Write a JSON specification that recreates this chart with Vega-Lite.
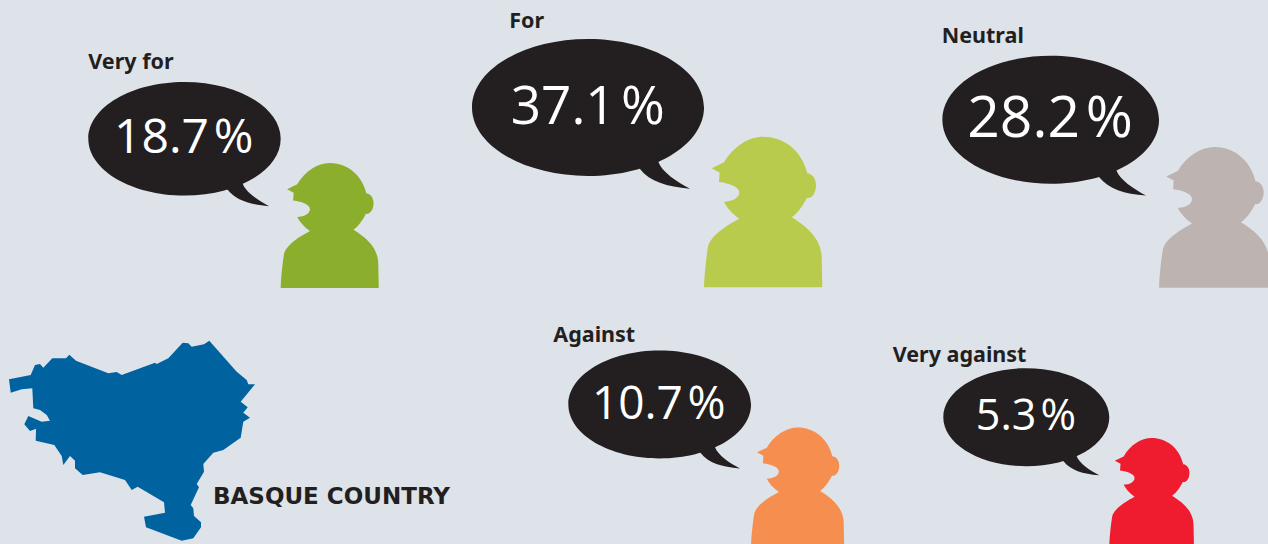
{"$schema":"https://vega.github.io/schema/vega-lite/v6.json","width":1268,"height":544,"padding":0,"autosize":{"type":"none"},"background":"#dde3e9","config":{"view":{"stroke":null}},"data":{"values":[{"stance":"Very for","pct":18.7,"text":"18.7\u200a%"},{"stance":"For","pct":37.1,"text":"37.1\u200a%"},{"stance":"Neutral","pct":28.2,"text":"28.2\u200a%"},{"stance":"Against","pct":10.7,"text":"10.7\u200a%"},{"stance":"Very against","pct":5.3,"text":"5.3\u200a%"}]},"resolve":{"scale":{"x":"independent","y":"independent","size":"independent"}},"layer":[{"mark":{"type":"point","filled":true,"opacity":1,"color":"#231f20","shape":"M-116,0 C-116,-37.83 -64.07,-68.5 0,-68.5 C64.07,-68.5 116,-37.83 116,0 C116,37.83 64.07,68.5 0,68.5 C-64.07,68.5 -116,37.83 -116,0 Z M70.3,54.2 C73.7,64.2 88.7,74.2 102,81.2 C78.7,79.2 62,74.2 52,61.5 L40,40 Z"},"encoding":{"x":{"field":"pct","type":"quantitative","axis":null,"scale":{"domain":[5.3,10.7,18.7,28.2,37.1],"range":[1026.3,659.7,184.5,1050.7,588],"zero":false,"nice":false}},"y":{"field":"pct","type":"quantitative","axis":null,"scale":{"domain":[5.3,10.7,18.7,28.2,37.1],"range":[417.2,404.5,138.8,119.7,107.5],"zero":false,"nice":false}},"size":{"field":"pct","type":"quantitative","legend":null,"scale":{"domain":[5.3,10.7,18.7,28.2,37.1],"range":[2.048,2.48,2.75,3.49,4],"zero":false,"nice":false}}}},{"mark":{"type":"point","filled":true,"opacity":1,"shape":"M123.7,60.8 L136,54.8 C145.3,39.2 160.3,29.2 175.3,29.2 C195.3,29.2 213.7,42.5 219.3,65.8 C225.3,66.5 228,72.5 228,77.5 C228,85.8 223.7,91.5 218.7,90.5 C215.3,97.5 210.3,105.2 203.7,109.8 C220.3,119.8 233.7,132.5 233.7,150.8 L234.3,179.8 L116,179.8 C116.3,169.2 118,150.8 120.3,137.5 C125,126 139,118 151.3,111.2 C143.7,105.8 138.7,99.8 136,94.2 C143.7,94.2 151.3,90.8 151.3,84.8 C151.3,79.8 142,75.8 131,74.5 L131.7,65.2 Z"},"encoding":{"x":{"field":"pct","type":"quantitative","axis":null,"scale":{"domain":[5.3,10.7,18.7,28.2,37.1],"range":[1026.3,659.7,184.5,1050.7,588],"zero":false,"nice":false}},"y":{"field":"pct","type":"quantitative","axis":null,"scale":{"domain":[5.3,10.7,18.7,28.2,37.1],"range":[417.2,404.5,138.8,119.7,107.5],"zero":false,"nice":false}},"size":{"field":"pct","type":"quantitative","legend":null,"scale":{"domain":[5.3,10.7,18.7,28.2,37.1],"range":[2.048,2.48,2.75,3.49,4],"zero":false,"nice":false}},"color":{"field":"stance","type":"nominal","legend":null,"scale":{"domain":["Very for","For","Neutral","Against","Very against"],"range":["#8bae2c","#b9cb4d","#bdb4b1","#f68e50","#ee1c2e"]}}}},{"mark":{"type":"text","font":"Open Sans","fontWeight":400,"color":"#ffffff","align":"center","baseline":"middle"},"encoding":{"x":{"field":"pct","type":"quantitative","axis":null,"scale":{"domain":[5.3,10.7,18.7,28.2,37.1],"range":[1026,658.7,183.8,1050,587.8],"zero":false,"nice":false}},"y":{"field":"pct","type":"quantitative","axis":null,"scale":{"domain":[5.3,10.7,18.7,28.2,37.1],"range":[417.2,404.5,138.8,119.7,107.5],"zero":false,"nice":false}},"size":{"field":"pct","type":"quantitative","legend":null,"scale":{"domain":[5.3,10.7,18.7,28.2,37.1],"range":[43,46,48,57,53],"zero":false,"nice":false}},"text":{"field":"text"}}},{"mark":{"type":"text","font":"Noto Sans","fontWeight":700,"fontSize":21.5,"color":"#231f20","align":"left","baseline":"alphabetic"},"encoding":{"x":{"field":"pct","type":"quantitative","axis":null,"scale":{"domain":[5.3,10.7,18.7,28.2,37.1],"range":[892.7,553.3,88.3,941.7,509.3],"zero":false,"nice":false}},"y":{"field":"pct","type":"quantitative","axis":null,"scale":{"domain":[5.3,10.7,18.7,28.2,37.1],"range":[362.3,341.7,69.3,43.3,28.3],"zero":false,"nice":false}},"text":{"field":"stance"}}},{"data":{"values":[{"region":"Basque Country"}]},"mark":{"type":"point","filled":true,"opacity":1,"color":"#0063a0","size":4,"shape":"M-121,-60.7 L-99.3,-65 L-95,-75 L-90,-76 L-86.7,-72.3 L-77.7,-81.7 L-64,-81.7 L-60.7,-85.3 L-54,-79.3 L-21.7,-66.7 L-13.3,-68 L-8.3,-65 L25,-77.3 L26.7,-76 L38.3,-81.7 L52.7,-97.3 L58.3,-96.7 L61.7,-93.3 L74,-95.7 L79.3,-99.3 L106.7,-68.3 L116.7,-60 L118.3,-55.7 L125,-55.7 L110.7,-38.3 L117.7,-32.7 L113.3,-27.3 L120,-22.3 L113.3,-18.3 L110.7,-2.3 L93.3,10 L83.3,12.7 L73.3,24 L74,31.7 L66.7,44 L69,47.3 L60.7,65 L63.3,68.3 L64,76 L71,82.3 L71,87.3 L63.3,98.3 L51.7,100.7 L16,87.3 L14,76.7 L35,72.7 L34,62.3 L7.7,46.7 L1.7,50 L-5,40 L-30,32.3 L-47.3,35 L-55,28.3 L-55,20.7 L-60,16 L-66.7,25 L-68.3,16 L-75.7,5 L-94.3,0.7 L-94,-11 L-92.3,-11.7 L-100,-9 L-105.7,-15.7 L-101.7,-24 L-88.3,-18.3 L-80,-19.3 L-83.3,-25 L-90,-30 L-96.7,-31.7 L-97.7,-51.7 L-108.3,-50.7 L-119.3,-47.3 Z"},"encoding":{"x":{"field":"region","type":"nominal","axis":null,"scale":{"domain":["Basque Country"],"range":[130,130]}},"y":{"field":"region","type":"nominal","axis":null,"scale":{"domain":["Basque Country"],"range":[440,440]}}}},{"data":{"values":[{"region":"Basque Country","name":"BASQUE COUNTRY"}]},"mark":{"type":"text","font":"DejaVu Sans","fontWeight":700,"fontSize":23,"color":"#231f20","align":"left","baseline":"alphabetic"},"encoding":{"x":{"field":"region","type":"nominal","axis":null,"scale":{"domain":["Basque Country"],"range":[213,213]}},"y":{"field":"region","type":"nominal","axis":null,"scale":{"domain":["Basque Country"],"range":[503.5,503.5]}},"text":{"field":"name"}}}]}
